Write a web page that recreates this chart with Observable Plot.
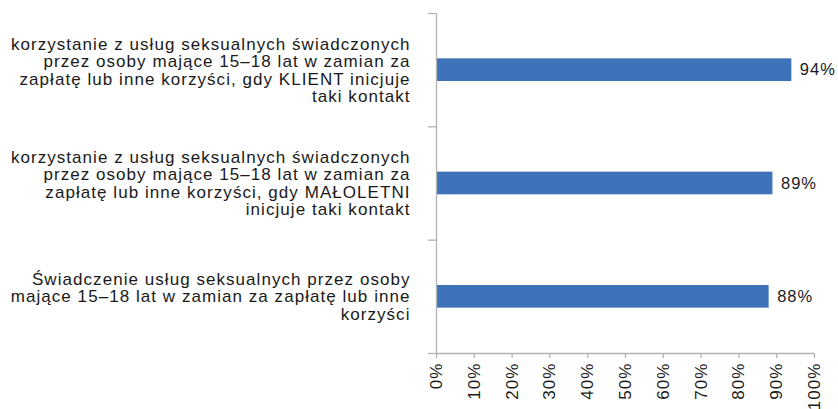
<!DOCTYPE html>
<html>
<head>
<meta charset="utf-8">
<script src="https://cdn.jsdelivr.net/npm/d3@7"></script>
<script src="https://cdn.jsdelivr.net/npm/@observablehq/plot@0.6"></script>
<style>
  html, body { margin: 0; padding: 0; background: #fff; }
  #chart svg { display: block; }
  #chart svg text { letter-spacing: 1.05px; }
</style>
</head>
<body>
<div id="chart"></div>
<script>
const categories = [
  "korzystanie z usług seksualnych świadczonych\nprzez osoby mające 15–18 lat w zamian za\nzapłatę lub inne korzyści, gdy KLIENT inicjuje\ntaki kontakt",
  "korzystanie z usług seksualnych świadczonych\nprzez osoby mające 15–18 lat w zamian za\nzapłatę lub inne korzyści, gdy MAŁOLETNI\ninicjuje taki kontakt",
  "Świadczenie usług seksualnych przez osoby\nmające 15–18 lat w zamian za zapłatę lub inne\nkorzyści"
];
const values = [94, 89, 88];
const xTicks = [0, 10, 20, 30, 40, 50, 60, 70, 80, 90, 100];

const data = categories.map((c, i) => ({cat: c, i, v: values[i]}));
const bandEdges = d3.range(categories.length + 1);
const bandCenters = d3.range(categories.length).map(i => i + 0.5);

const axisColor = "#b3b3b3";
const textColor = "#1a1a1a";
const font = "Liberation Sans, Arial, sans-serif";

const chart = Plot.plot({
  width: 838,
  height: 409,
  marginLeft: 436,
  marginRight: 24,
  marginTop: 13,
  marginBottom: 56,
  style: {fontFamily: font, color: textColor, background: "#fff"},
  x: {domain: [0, 100], label: null},
  y: {domain: [0, categories.length], reverse: true, label: null},
  marks: [
    Plot.rectX(data, {
      x1: 0, x2: "v",
      y1: d => d.i + 0.4, y2: d => d.i + 0.6,
      fill: "#3e73b9"
    }),
    Plot.text(data, {
      x: "v", y: d => d.i + 0.5, text: d => d.v + "%",
      textAnchor: "start", dx: 8, fontSize: 16.5, fill: textColor
    }),
    // y axis labels
    Plot.axisY(bandCenters, {
      tickSize: 0, tickPadding: 26, label: null,
      tickFormat: d => categories[Math.floor(d)],
      fontSize: 17, lineHeight: 1.03, fill: textColor, textAnchor: "end"
    }),
    // y axis separator ticks
    Plot.axisY(bandEdges, {
      tickSize: 8, tickFormat: () => "", label: null,
      stroke: axisColor, strokeWidth: 1.3, strokeOpacity: 1
    }),
    Plot.ruleX([0], {stroke: axisColor, strokeWidth: 1.3}),
    // x axis
    Plot.ruleY([categories.length], {stroke: axisColor, strokeWidth: 1.3}),
    Plot.axisX(xTicks, {
      tickSize: 5, tickPadding: 4, tickRotate: -90, label: null,
      tickFormat: d => d + "%",
      fontSize: 17, stroke: axisColor, strokeOpacity: 1, fill: textColor, strokeWidth: 1.3
    })
  ]
});
document.getElementById("chart").appendChild(chart);
</script>
</body>
</html>
